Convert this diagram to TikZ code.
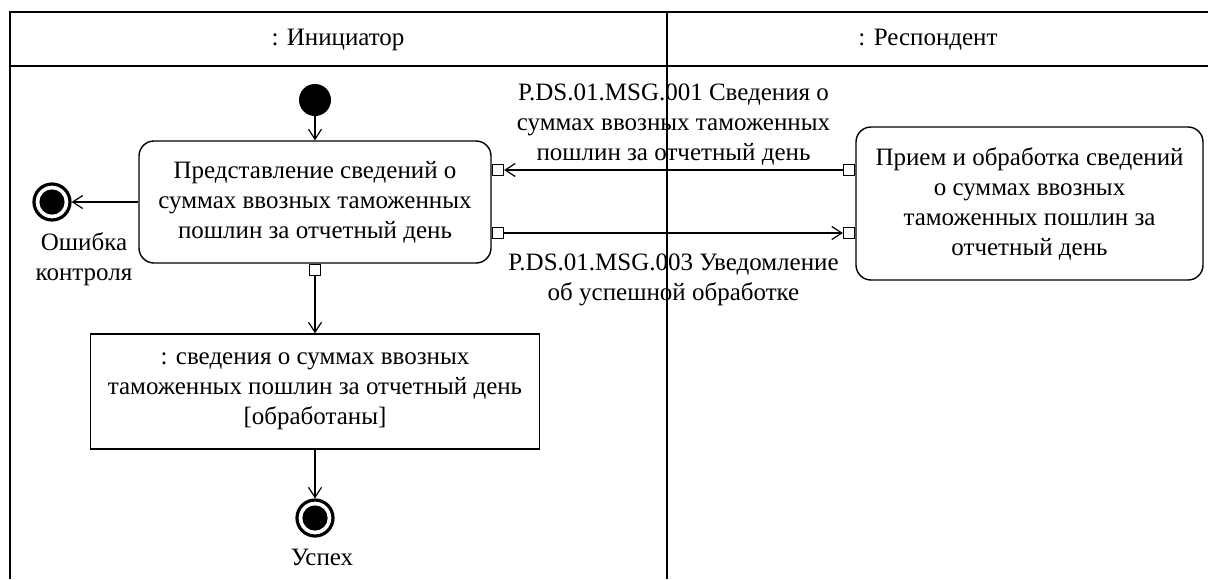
\documentclass[tikz,border=0pt]{standalone}
\usepackage{fontspec}
\setmainfont{Liberation Serif}
\usetikzlibrary{arrows.meta}

\begin{document}
\begin{tikzpicture}[x=0.5pt,y=-0.5pt,
    every node/.style={font=\fontsize{12.5}{15}\selectfont, align=center, inner sep=0pt},
    action/.style={draw, rounded corners=7.5pt, line width=0.7pt},
    objbox/.style={draw, line width=0.7pt},
    pin/.style={draw, fill=white, minimum size=5.5pt, line width=0.6pt},
    initial/.style={circle, fill=black, minimum size=16pt},
    final/.style={circle, draw, line width=1.6pt, minimum size=18pt,
        path picture={\fill (path picture bounding box.center) circle (6.3pt);}},
    flow/.style={-{Straight Barb[length=5pt,width=6.5pt]}, line width=0.6pt}]
          \useasboundingbox (0,0) rectangle (1208,579);
          % swimlanes
          \draw [line width=0.8pt] (10,579) -- (10,12) -- (1208,12);
          \draw [line width=0.8pt] (10,66) -- (1208,66);
          \draw [line width=0.6pt] (667,12) -- (667,579);
          \node (initiator) at (338,40) {: Инициатор};
          \node (respondent) at (928,40) {: Респондент};
          % initiator
          \node [initial] (start) at (315,100) {};
          \node [action, minimum width=176pt, minimum height=61pt] (submit) at (315,202)
                {Представление сведений о\\суммах ввозных таможенных\\пошлин за отчетный день};
          \node [pin] (submitin) at (498,170) {};
          \node [pin] (submitout) at (498,233) {};
          \node [pin] (submitdone) at (315,270) {};
          \node [final] (failure) at (52,202) {};
          \node (failurelabel) at (84,259) {Ошибка\\контроля};
          \node [objbox, minimum width=224.5pt, minimum height=57.5pt] (data) at (315,391.5)
                {: сведения о суммах ввозных\\таможенных пошлин за отчетный день\\{[}обработаны{]}};
          \node [final] (success) at (315,518) {};
          \node (successlabel) at (322,557) {Успех};
          % respondent
          \node [action, minimum width=173.5pt, minimum height=76.5pt] (receive) at (1029.5,203.5)
                {Прием и обработка сведений\\о суммах ввозных\\таможенных пошлин за\\отчетный день};
          \node [pin] (receiveout) at (849,170) {};
          \node [pin] (receivein) at (849,233) {};
          % flows
          \draw [flow] (start) -- (submit);
          \draw [flow] (submit) -- (failure);
          \draw [flow] (submitdone) -- (data);
          \draw [flow] (data) -- (success);
          % messages between lanes
          \draw [flow] (receiveout) -- (submitin)
                node [midway, above=2pt] (msgone) {P.DS.01.MSG.001 Сведения о\\суммах ввозных таможенных\\пошлин за отчетный день};
          \draw [flow] (submitout) -- (receivein)
                node [midway, below=10pt] (msgthree) {P.DS.01.MSG.003 Уведомление\\об успешной обработке};
        \end{tikzpicture}
\end{document}
